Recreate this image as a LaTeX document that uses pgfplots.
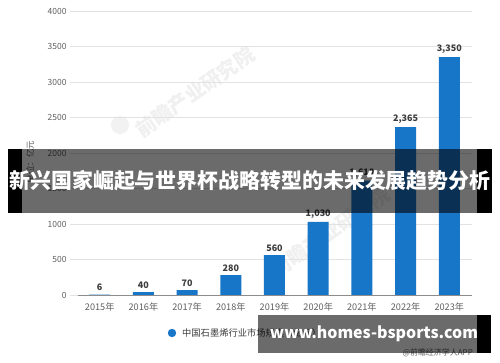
\documentclass[border=0pt]{standalone}
\usepackage{pgfplots}
\pgfplotsset{compat=1.18}
\usepackage{fontspec}
\setmainfont{Noto Sans CJK SC}
\definecolor{barblue}{RGB}{24,118,200}
\definecolor{tickgray}{RGB}{95,95,95}
\definecolor{gridgray}{RGB}{226,226,226}
\definecolor{labgray}{RGB}{60,60,60}
\begin{document}
\begin{tikzpicture}[x=1bp,y=1bp]
\path[use as bounding box] (0,0) rectangle (500,362);
\fill[white] (0,0) rectangle (500,362);
% watermarks
\fill[black!5] (120,237) circle (9);
\node[rotate=35, text=black!6, font=\bfseries\fontsize{20}{24}\selectfont] at (195,270) {前瞻产业研究院};
\node[rotate=35, text=black!6, font=\bfseries\fontsize{20}{24}\selectfont] at (330,130) {前瞻产业研究院};
\begin{axis}[at={(70bp,67bp)}, anchor=south west, scale only axis,
  width=402bp, height=284bp,
  xmin=-0.68, xmax=8.52, ymin=0, ymax=4000,
  ytick={0,500,...,4000},
  yticklabels={0,500,1000,1500,2000,2500,3000,3500,4000},
  xtick={0,...,8},
  xticklabels={2015年,2016年,2017年,2018年,2019年,2020年,2021年,2022年,2023年},
  ymajorgrids, grid style={gridgray, line width=0.7pt},
  axis line style={draw=none}, tick style={draw=none},
  yticklabel style={font=\fontsize{8.5}{10}\selectfont, text=tickgray},
  xticklabel style={font=\fontsize{9.2}{10}\selectfont, text=tickgray},
  /pgf/number format/assume math mode=true,
  ybar, bar width=21bp,
  nodes near coords={\pgfmathprintnumber[1000 sep={,}]{\pgfplotspointmeta}},
  nodes near coords style={font=\bfseries\fontsize{9}{10}\selectfont, text=labgray},
  clip=false,
]
\addplot[fill=barblue, draw=none] coordinates {
(0,6) (1,40) (2,70) (3,280) (4,560) (5,1030) (6,1610) (7,2365) (8,3350)};
\draw[black!45, line width=0.7pt] (axis cs:-0.5,0) -- (axis cs:8.52,0);
\end{axis}
% y label
\node[rotate=90, text=tickgray, font=\fontsize{8.5}{10}\selectfont] at (30,200) {单位：亿元};
% legend
\fill[barblue] (172,29) circle (4.2);
\node[anchor=west, text=labgray, font=\fontsize{9.3}{10}\selectfont, inner sep=0] at (182,29) {中国石墨烯行业市场规模（亿元）};
% source
\node[anchor=east, text=tickgray, font=\fontsize{8}{10}\selectfont, inner sep=0] at (473,9) {@前瞻经济学人APP};
% banner
\fill[black, opacity=0.58] (22,149) rectangle (477,213);
\fill[black] (8,149) rectangle (22,213);
\fill[black] (477,149) rectangle (492,213);
\node[text=white, font=\bfseries\fontsize{21}{24}\selectfont, inner sep=0] at (250,181) {新兴国家崛起与世界杯战略转型的未来发展趋势分析};
% bottom box
\fill[black, opacity=0.58] (258,9) rectangle (477,47);
\fill[black] (477,9) rectangle (491,47);
\node[text=white, font=\bfseries\fontsize{16}{20}\selectfont, inner sep=0] at (374,28) {www.homes-bsports.com};
\end{tikzpicture}
\end{document}
